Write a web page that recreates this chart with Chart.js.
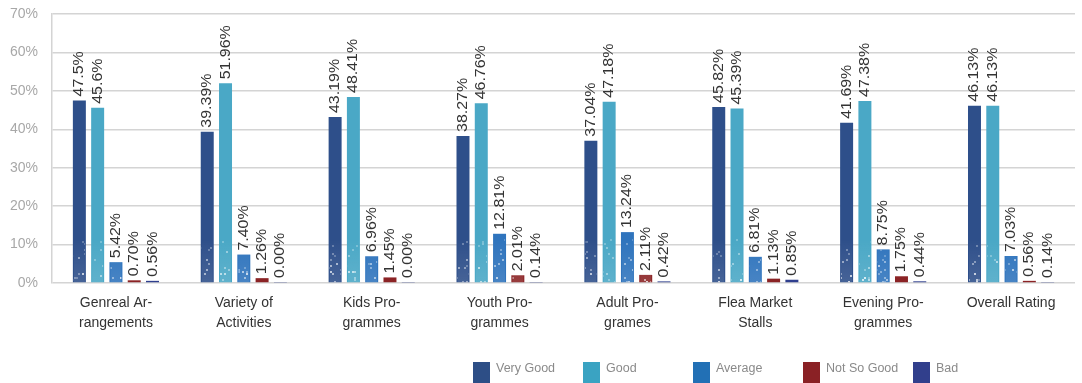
<!DOCTYPE html>
<html>
<head>
<meta charset="utf-8">
<script src="https://cdn.jsdelivr.net/npm/chart.js@4/dist/chart.umd.min.js"></script>
<style>
  html, body { margin: 0; padding: 0; background: #ffffff; }
  #wrap { width: 1082px; height: 383px; position: relative; }
</style>
</head>
<body>
<div id="wrap"><canvas id="c" width="1082" height="383"></canvas></div>
<script>
// Survey categories (two-line tick labels)
const categories = [
  ["Genreal Ar-", "rangements"],
  ["Variety of", "Activities"],
  ["Kids Pro-", "grammes"],
  ["Youth Pro-", "grammes"],
  ["Adult Pro-", "grames"],
  ["Flea Market", "Stalls"],
  ["Evening Pro-", "grammes"],
  ["Overall Rating"]
];

// Percent responses per rating, as printed above each bar
const veryGood  = ["47.5", "39.39", "43.19", "38.27", "37.04", "45.82", "41.69", "46.13"];
const good      = ["45.6", "51.96", "48.41", "46.76", "47.18", "45.39", "47.38", "46.13"];
const average   = ["5.42", "7.40", "6.96", "12.81", "13.24", "6.81", "8.75", "7.03"];
const notSoGood = ["0.70", "1.26", "1.45", "2.01", "2.11", "1.13", "1.75", "0.56"];
const bad       = ["0.56", "0.00", "0.00", "0.14", "0.42", "0.85", "0.44", "0.14"];

const seriesNames = ["Very Good", "Good", "Average", "Not So Good", "Bad"];
const yTicks = [0, 10, 20, 30, 40, 50, 60, 70];

const FONT = "'Liberation Sans', Arial, Helvetica, sans-serif";
const palette = ["#2e4f8a", "#4aa8c6", "#2f74bd", "#8b2325", "#2f3f8e"];
const legendPalette = ["#2d4e86", "#3aa3c2", "#2270b5", "#8a2125", "#313f8c"];

const rawSeries = [veryGood, good, average, notSoGood, bad];

const datasets = rawSeries.map((arr, i) => ({
  label: seriesNames[i],
  data: arr.map(Number),
  labels: arr.map(s => s + "%"),
  backgroundColor: palette[i],
  borderWidth: 0,
  minBarLength: 1,
  categoryPercentage: 0.715,
  barPercentage: 0.71
}));

// Glittery texture used near the foot of each bar
function hash2(x, y) {
  let h = Math.imul(x, 374761393) ^ Math.imul(y, 668265263);
  h = Math.imul(h ^ (h >>> 13), 1274126177);
  return ((h ^ (h >>> 16)) >>> 0) / 4294967296;
}

function makeSparkle(chart) {
  const area = chart.chartArea;
  const c = document.createElement("canvas");
  c.width = chart.width;
  c.height = chart.height;
  const g = c.getContext("2d");
  const bandTop = area.bottom - 44;
  const grad = g.createLinearGradient(0, bandTop, 0, area.bottom);
  grad.addColorStop(0, "rgba(255,255,255,0)");
  grad.addColorStop(1, "rgba(255,255,255,0.12)");
  g.fillStyle = grad;
  g.fillRect(0, bandTop, c.width, area.bottom - bandTop);
  for (let y = Math.floor(bandTop); y < area.bottom; y += 2) {
    for (let x = 0; x < c.width; x += 2) {
      const depth = (y - bandTop) / (area.bottom - bandTop);
      if (hash2(x, y) < 0.035 + 0.05 * depth) {
        const a = 0.25 + 0.6 * depth * hash2(y, x);
        g.fillStyle = "rgba(255,255,255," + a.toFixed(2) + ")";
        g.fillRect(x, y, 2, 2);
      }
    }
  }
  return c;
}

const barTexture = {
  id: "barTexture",
  afterDatasetsDraw(chart) {
    const ctx = chart.ctx;
    const tex = makeSparkle(chart);
    chart.data.datasets.forEach((ds, di) => {
      chart.getDatasetMeta(di).data.forEach(bar => {
        const left = bar.x - bar.width / 2;
        const top = Math.min(bar.y, bar.base);
        const h = Math.abs(bar.base - bar.y);
        if (h < 6) return;
        ctx.save();
        ctx.beginPath();
        ctx.rect(left + 1, top, bar.width - 2, h);
        ctx.clip();
        ctx.drawImage(tex, 0, 0);
        ctx.restore();
      });
    });
  }
};

// Rotated value text above each bar
const valueLabels = {
  id: "valueLabels",
  afterDatasetsDraw(chart) {
    const ctx = chart.ctx;
    ctx.save();
    ctx.font = "14.5px " + FONT;
    ctx.fillStyle = "#333333";
    ctx.textAlign = "left";
    ctx.textBaseline = "middle";
    chart.data.datasets.forEach((ds, di) => {
      const meta = chart.getDatasetMeta(di);
      meta.data.forEach((bar, i) => {
        ctx.save();
        ctx.translate(bar.x, bar.y - 4);
        ctx.rotate(-Math.PI / 2);
        ctx.scale(1.1, 1);
        ctx.fillText(ds.labels[i], 0, 0);
        ctx.restore();
      });
    });
    ctx.restore();
  }
};

// Legend row along the bottom with evenly spaced entries
const bottomLegend = {
  id: "bottomLegend",
  afterDraw(chart) {
    const ctx = chart.ctx;
    ctx.save();
    ctx.font = "12.5px " + FONT;
    ctx.textBaseline = "middle";
    ctx.textAlign = "left";
    const startX = 473, step = 110, boxY = 362, boxW = 17, boxH = 21;
    chart.data.datasets.forEach((ds, i) => {
      const x = startX + i * step;
      ctx.fillStyle = legendPalette[i];
      ctx.fillRect(x, boxY, boxW, boxH);
      ctx.fillStyle = "#8a8a8a";
      ctx.fillText(ds.label, x + 23, 369);
    });
    ctx.restore();
  }
};

new Chart(document.getElementById("c"), {
  type: "bar",
  data: { labels: categories, datasets },
  options: {
    responsive: false,
    animation: false,
    devicePixelRatio: 1,
    layout: { padding: { top: 14, right: 7, left: 0, bottom: 0 } },
    plugins: {
      legend: { display: false },
      tooltip: { enabled: false }
    },
    scales: {
      x: {
        grid: { display: false, drawTicks: false },
        border: { display: false },
        ticks: {
          color: "#333333",
          font: { family: FONT, size: 14, lineHeight: 1.43 },
          padding: 10,
          maxRotation: 0,
          autoSkip: false
        },
        afterFit(scale) {
          scale.height = 100;
          scale.paddingTop = 0;
          scale.paddingLeft = 0;
          scale.paddingRight = 0;
        }
      },
      y: {
        min: 0,
        max: 70,
        afterBuildTicks(scale) { scale.ticks = yTicks.map(v => ({ value: v })); },
        grid: { color: "#d4d4d4", lineWidth: 1.5, drawTicks: false },
        border: { display: true, color: "#d4d4d4", width: 1.5 },
        ticks: {
          color: "#a8a8a8",
          font: { family: FONT, size: 14 },
          padding: 14,
          callback: v => v + "%"
        },
        afterFit(scale) {
          scale.width = 52;
          scale.paddingTop = 0;
          scale.paddingBottom = 0;
        }
      }
    }
  },
  plugins: [barTexture, valueLabels, bottomLegend]
});
</script>
</body>
</html>
